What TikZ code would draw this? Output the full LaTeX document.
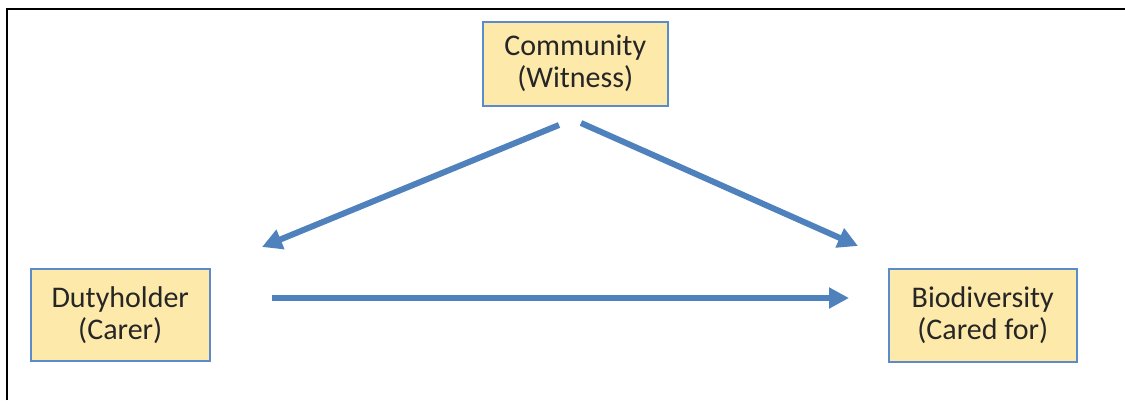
\documentclass[tikz,border=0pt]{standalone}
\usepackage{fontspec}
\setmainfont{Carlito}
\usetikzlibrary{arrows.meta}
\definecolor{boxfill}{HTML}{FDE9A9}
\definecolor{boxline}{HTML}{5B8BC8}
\definecolor{arrowblue}{HTML}{4F81BD}
\definecolor{txt}{HTML}{262626}
\tikzset{
  box/.style={draw=boxline, line width=1.5pt, fill=boxfill, inner sep=0pt, anchor=north west,
    align=center, text=txt, font=\fontsize{30}{32}\selectfont},
  arr/.style={draw=arrowblue, line width=6pt, -{Triangle[length=20pt,width=20pt]}}
}
\begin{document}
\begin{tikzpicture}[x=1pt,y=-1pt]
\useasboundingbox (0,0) rectangle (1125,400);
\draw[line width=2pt] (7,400) -- (7,8.5) -- (1125,8.5);
\node[box, minimum width=185pt, minimum height=84pt] (com) at (482,21) {Community\\(Witness)};
\node[box, minimum width=179pt, minimum height=92pt] (duty) at (30,268) {Dutyholder\\(Carer)};
\node[box, minimum width=188pt, minimum height=93pt] (bio) at (888,268) {Biodiversity\\(Cared for)};
\coordinate (comL) at (559,125);
\coordinate (comR) at (581,123);
\coordinate (dutyT) at (262,247);
\coordinate (bioT) at (858,246);
\coordinate (dutyR) at (272,298);
\coordinate (bioL) at (849,298);
\draw[arr] (comL) -- (dutyT);
\draw[arr] (comR) -- (bioT);
\draw[arr] (dutyR) -- (bioL);
\end{tikzpicture}
\end{document}
